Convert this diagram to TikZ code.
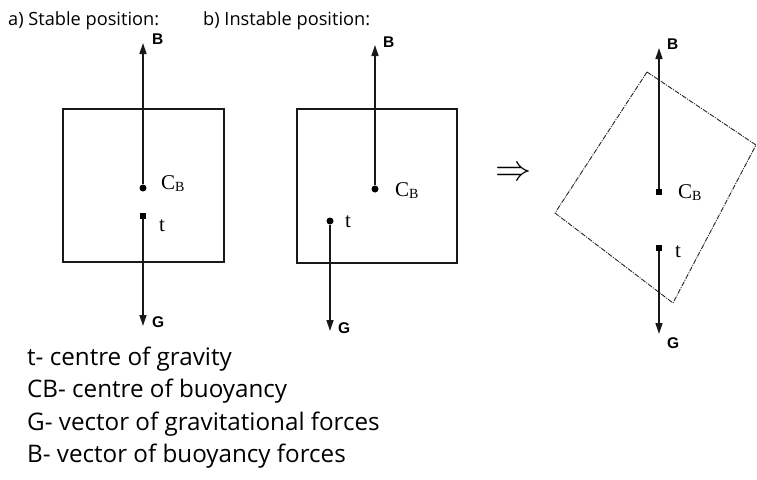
\documentclass[tikz,border=0pt]{standalone}
\usepackage{fontspec}
\setmainfont{Open Sans}
\newfontfamily\lblfont{Liberation Sans}
\newfontfamily\serfont{Liberation Serif}
\usetikzlibrary{arrows.meta}
\begin{document}
\begin{tikzpicture}[x=1pt,y=-1pt,
  boxline/.style={draw=black!90,line width=1.8pt},
  vec/.style={draw=black!90,line width=1.4pt,-{Triangle[length=11pt,width=7pt]}},
  dot/.style={circle,fill=black,inner sep=0pt,minimum size=7pt},
  bglabel/.style={font=\lblfont\bfseries\fontsize{15.5}{17}\selectfont,anchor=base west,inner sep=0pt},
  serlabel/.style={font=\serfont\fontsize{21}{24}\selectfont,anchor=base west,inner sep=0pt},
  head/.style={font=\fontsize{18.2}{21}\selectfont,anchor=base west,inner sep=0pt},
  legend/.style={font=\fontsize{24.2}{28}\selectfont,anchor=base west,inner sep=0pt},
  dashedbox/.style={draw=black!85,line width=0.9pt,dash pattern=on 5pt off 1.2pt on 1pt off 1.2pt}]
\useasboundingbox (0,0) rectangle (757,479);
\fill[white] (0,0) rectangle (757,479);

% headers
\node[head] (ha) at (8,25) {a) Stable position:};
\node[head] (hb) at (203,25) {b) Instable position:};

% panel a
\draw[boxline] (63,109) rectangle (224,262);
\node[dot] (cba) at (143,188) {};
\node[dot,rectangle,minimum size=6pt] (ta) at (143,216) {};
\coordinate (ba) at (143,43);
\coordinate (ga) at (143,326);
\draw[vec] (cba) -- (ba);
\draw[vec] (ta) -- (ga);
\node[bglabel] (lba) at (152,44) {B};
\node[bglabel] (lga) at (152,327) {G};
\node[serlabel] (lcba) at (161,189) {C\raisebox{-0.25ex}{\fontsize{14}{16}\selectfont B}};
\node[serlabel] (lta) at (159,231) {t};

% panel b
\draw[boxline] (297,109) rectangle (457,263);
\node[dot] (cbb) at (375,189) {};
\node[dot] (tb) at (330,221) {};
\coordinate (bb) at (375,45);
\coordinate (gb) at (330,331);
\draw[vec] (cbb) -- (bb);
\draw[vec] (tb) -- (gb);
\node[bglabel] (lbb) at (383,47) {B};
\node[bglabel] (lgb) at (338,333) {G};
\node[serlabel] (lcbb) at (395,196) {C\raisebox{-0.25ex}{\fontsize{14}{16}\selectfont B}};
\node[serlabel] (ltb) at (345,227) {t};

% implication arrow
\node[inner sep=0pt] (imp) at (514,174) {\scalebox{1.45}{\fontsize{24.88}{26}\selectfont$\Rightarrow$}};

% panel c
\coordinate (c1) at (647,72);
\coordinate (c2) at (756,145);
\coordinate (c3) at (673,303);
\coordinate (c4) at (555,213);
\draw[dashedbox] (c1) -- (c2) -- (c3) -- (c4) -- cycle;
\node[dot,rectangle,minimum size=5.5pt] (cbc) at (659,192) {};
\node[dot,rectangle,minimum size=5.5pt] (tc) at (659,248) {};
\coordinate (bc) at (659,48);
\coordinate (gc) at (659,334);
\draw[vec] (cbc) -- (bc);
\draw[vec] (tc) -- (gc);
\node[bglabel] (lbc) at (667,49) {B};
\node[bglabel] (lgc) at (667,348) {G};
\node[serlabel] (lcbc) at (678,198) {C\raisebox{-0.25ex}{\fontsize{14}{16}\selectfont B}};
\node[serlabel] (ltc) at (675,257) {t};

% legend
\node[legend] (l1) at (27,365) {t- centre of gravity};
\node[legend] (l2) at (27,397) {CB- centre of buoyancy};
\node[legend] (l3) at (27,430) {G- vector of gravitational forces};
\node[legend] (l4) at (27,462) {B- vector of buoyancy forces};
\end{tikzpicture}
\end{document}
